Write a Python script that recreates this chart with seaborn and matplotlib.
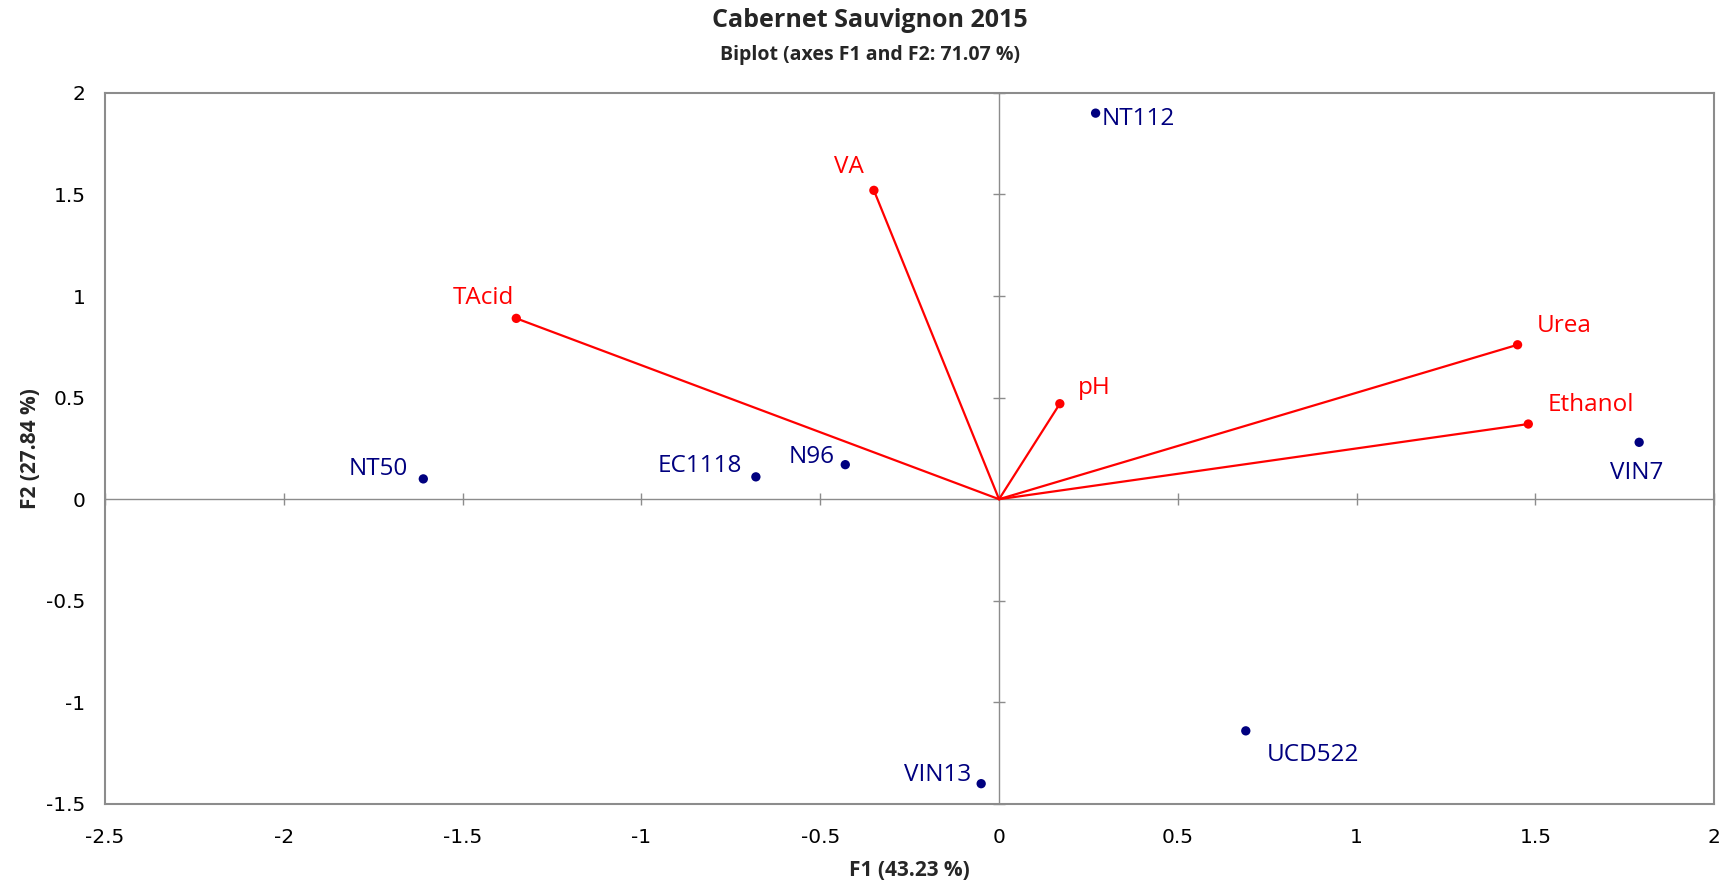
import matplotlib
matplotlib.use("Agg")
import matplotlib.pyplot as plt
import seaborn as sns
import numpy as np
import pandas as pd

# observations (yeast strains) on F1/F2
obs_names = ["NT112", "NT50", "EC1118", "N96", "VIN7", "UCD522", "VIN13"]
obs_f1 = [0.27, -1.61, -0.68, -0.43, 1.79, 0.69, -0.05]
obs_f2 = [1.90, 0.10, 0.11, 0.17, 0.28, -1.14, -1.40]

# variables (loadings)
var_names = ["VA", "TAcid", "pH", "Urea", "Ethanol"]
var_f1 = [-0.35, -1.35, 0.17, 1.45, 1.48]
var_f2 = [1.52, 0.89, 0.47, 0.76, 0.37]

x_ticks = [-2.5, -2, -1.5, -1, -0.5, 0, 0.5, 1, 1.5, 2]
y_ticks = [-1.5, -1, -0.5, 0, 0.5, 1, 1.5, 2]

# label placement (offset in points, alignment)
obs_offsets = {
    "NT112": (4.5, -4.5, "left"),
    "NT50": (-11, 7, "right"),
    "EC1118": (-10, 7.5, "right"),
    "N96": (-8, 5.5, "right"),
    "VIN7": (-1.5, -22, "center"),
    "UCD522": (15, -17.5, "left"),
    "VIN13": (-7, 6, "right"),
}
var_offsets = {
    "VA": (-7.5, 16.5, "right"),
    "TAcid": (-1.5, 14.5, "right"),
    "pH": (13, 11.5, "left"),
    "Urea": (14, 13.5, "left"),
    "Ethanol": (14, 14, "left"),
}

obs = pd.DataFrame({"name": obs_names, "F1": obs_f1, "F2": obs_f2})
var = pd.DataFrame({"name": var_names, "F1": var_f1, "F2": var_f2})

navy = "#00007F"
red = "#FF0000"
grey = "#8C8C8C"
label_font = ["Open Sans", "DejaVu Sans"]

sns.set_style("white")
plt.rcParams["font.family"] = ["DejaVu Sans"]

fig = plt.figure(figsize=(17.22, 8.84), dpi=100)
ax = fig.add_axes([0.061, 0.0905, 0.9345, 0.8045])

# zero axes
ax.axhline(0, color=grey, lw=1.0, zorder=1)
ax.axvline(0, color=grey, lw=1.0, zorder=1)
ax.plot([t for t in x_ticks if t != 0], [0] * (len(x_ticks) - 1), ls="none",
        marker="|", ms=8, mew=1.0, color=grey, zorder=1, clip_on=False)
ax.plot([0] * (len(y_ticks) - 1), [t for t in y_ticks if t != 0], ls="none",
        marker="_", ms=8, mew=1.0, color=grey, zorder=1, clip_on=False)

# variable vectors
for i in range(len(var)):
    ax.plot([0, var.F1[i]], [0, var.F2[i]], color=red, lw=1.6, zorder=2)
sns.scatterplot(data=var, x="F1", y="F2", color=red, s=45, edgecolor="none",
                ax=ax, zorder=3)
sns.scatterplot(data=obs, x="F1", y="F2", color=navy, s=45, edgecolor="none",
                ax=ax, zorder=3)

for n, x, y in zip(obs_names, obs_f1, obs_f2):
    dx, dy, ha = obs_offsets[n]
    ax.annotate(n, (x, y), xytext=(dx, dy), textcoords="offset points",
                ha=ha, va="center", color=navy, fontsize=17.5, family=label_font)
for n, x, y in zip(var_names, var_f1, var_f2):
    dx, dy, ha = var_offsets[n]
    ax.annotate(n, (x, y), xytext=(dx, dy), textcoords="offset points",
                ha=ha, va="center", color=red, fontsize=17.5, family=label_font)

ax.set_xlim(-2.5, 2)
ax.set_ylim(-1.5, 2)
ax.set_xticks(x_ticks)
ax.set_yticks(y_ticks)
ax.set_xticklabels([f"{t:g}" for t in x_ticks])
ax.set_yticklabels([f"{t:g}" for t in y_ticks])
ax.tick_params(length=0, labelsize=14.5, colors="black")
ax.tick_params(axis="x", pad=17)
ax.tick_params(axis="y", pad=14)
for s in ax.spines.values():
    s.set_color(grey)
    s.set_linewidth(1.5)

ax.set_xlabel("F1 (43.23 %)", fontsize=15, fontweight="bold", family=label_font, labelpad=10)
ax.set_ylabel("F2 (27.84 %)", fontsize=15, fontweight="bold", family=label_font, labelpad=4)

fig.text(0.505, 0.977, "Cabernet Sauvignon 2015", ha="center", va="center",
         fontsize=18, fontweight="bold", family=label_font)
fig.text(0.505, 0.938, "Biplot (axes F1 and F2: 71.07 %)", ha="center", va="center",
         fontsize=14, fontweight="bold", family=label_font)

fig.savefig("out.png", dpi=100)
